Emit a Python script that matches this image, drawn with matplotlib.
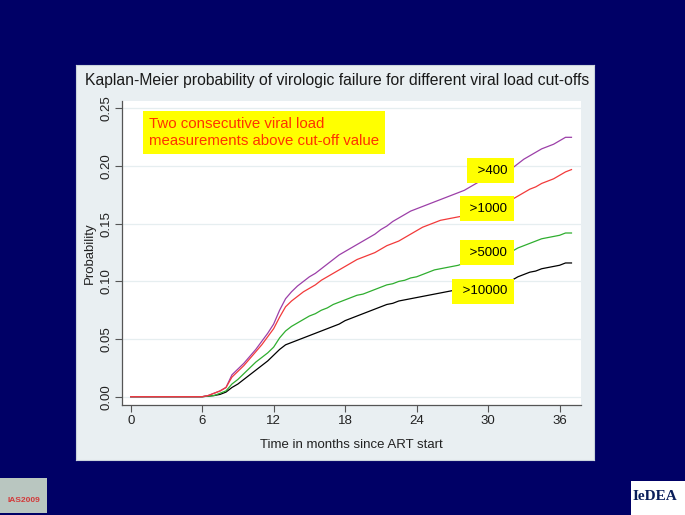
import matplotlib
matplotlib.use("Agg")
import matplotlib.pyplot as plt
from matplotlib.patches import Rectangle

plt.rcParams['font.family'] = ['Liberation Sans', 'DejaVu Sans']

# ---- data ----
months = [0, 6.0, 6.5, 7.0, 7.5, 8.0, 8.5, 9.0, 9.5, 10.0, 10.5, 11.0, 11.5, 12.0,
          12.5, 13.0, 13.5, 14.0, 14.5, 15.0, 15.5, 16.0, 16.5, 17.0, 17.5, 18.0,
          18.5, 19.0, 19.5, 20.0, 20.5, 21.0, 21.5, 22.0, 22.5, 23.0, 23.5, 24.0,
          24.5, 25.0, 25.5, 26.0, 26.5, 27.0, 27.5, 28.0, 28.5, 29.0, 29.5, 30.0,
          30.5, 31.0, 31.5, 32.0, 32.5, 33.0, 33.5, 34.0, 34.5, 35.0, 35.5, 36.0,
          36.5, 37.0]

vl400 = [0, 0.000, 0.001, 0.003, 0.005, 0.008, 0.019, 0.024, 0.029, 0.035, 0.041,
         0.048, 0.055, 0.063, 0.075, 0.085, 0.091, 0.096, 0.100, 0.104, 0.107,
         0.111, 0.115, 0.119, 0.123, 0.126, 0.129, 0.132, 0.135, 0.138, 0.141,
         0.145, 0.148, 0.152, 0.155, 0.158, 0.161, 0.163, 0.165, 0.167, 0.169,
         0.171, 0.173, 0.175, 0.177, 0.179, 0.182, 0.185, 0.188, 0.190, 0.192,
         0.194, 0.196, 0.198, 0.202, 0.206, 0.209, 0.212, 0.215, 0.217, 0.219,
         0.222, 0.225, 0.225]

vl1000 = [0, 0.000, 0.001, 0.003, 0.005, 0.008, 0.017, 0.022, 0.027, 0.033, 0.039,
          0.045, 0.052, 0.059, 0.069, 0.078, 0.083, 0.087, 0.091, 0.094, 0.097,
          0.101, 0.104, 0.107, 0.110, 0.113, 0.116, 0.119, 0.121, 0.123, 0.125,
          0.128, 0.131, 0.133, 0.135, 0.138, 0.141, 0.144, 0.147, 0.149, 0.151,
          0.153, 0.154, 0.155, 0.156, 0.157, 0.159, 0.161, 0.163, 0.164, 0.166,
          0.168, 0.169, 0.171, 0.174, 0.177, 0.180, 0.182, 0.185, 0.187, 0.189,
          0.192, 0.195, 0.197]

vl5000 = [0, 0.000, 0.0005, 0.001, 0.003, 0.005, 0.011, 0.015, 0.020, 0.025, 0.030,
          0.034, 0.038, 0.043, 0.051, 0.057, 0.061, 0.064, 0.067, 0.070, 0.072,
          0.075, 0.077, 0.080, 0.082, 0.084, 0.086, 0.088, 0.089, 0.091, 0.093,
          0.095, 0.097, 0.098, 0.100, 0.101, 0.103, 0.104, 0.106, 0.108, 0.110,
          0.111, 0.112, 0.113, 0.114, 0.116, 0.118, 0.119, 0.120, 0.121, 0.122,
          0.123, 0.124, 0.126, 0.129, 0.131, 0.133, 0.135, 0.137, 0.138, 0.139,
          0.140, 0.142, 0.142]

vl10000 = [0, 0.000, 0.0005, 0.001, 0.002, 0.004, 0.008, 0.011, 0.015, 0.019, 0.023,
           0.027, 0.031, 0.036, 0.041, 0.045, 0.047, 0.049, 0.051, 0.053, 0.055,
           0.057, 0.059, 0.061, 0.063, 0.066, 0.068, 0.070, 0.072, 0.074, 0.076,
           0.078, 0.080, 0.081, 0.083, 0.084, 0.085, 0.086, 0.087, 0.088, 0.089,
           0.090, 0.091, 0.092, 0.093, 0.094, 0.095, 0.096, 0.097, 0.097, 0.098,
           0.099, 0.100, 0.101, 0.104, 0.106, 0.108, 0.109, 0.111, 0.112, 0.113,
           0.114, 0.116, 0.116]

series_labels = [">400", ">1000", ">5000", ">10000"]
label_y = [0.196, 0.163, 0.125, 0.0915]
label_x = 31.6
xticks = [0, 6, 12, 18, 24, 30, 36]
yticks = [0.00, 0.05, 0.10, 0.15, 0.20, 0.25]

# ---- figure ----
W, H = 685, 515
fig = plt.figure(figsize=(W / 100, H / 100), dpi=100)
fig.patch.set_facecolor('#000066')

# light slide panel (background axes)
bg = fig.add_axes([76 / W, 1 - 460 / H, (594 - 76) / W, (460 - 65) / H], zorder=-5)
bg.set_facecolor('#e9eff2')
bg.set_xticks([])
bg.set_yticks([])
for s in bg.spines.values():
    s.set_color('#c9d3dc')
    s.set_linewidth(0.8)

fig.text(337 / W, 1 - 81 / H,
         "Kaplan-Meier probability of virologic failure for different viral load cut-offs",
         ha='center', va='center', fontsize=11.3, color='#1a1a1a')

ax = fig.add_axes([122 / W, 1 - 405 / H, (581 - 122) / W, (405 - 101) / H], zorder=2)
ax.set_facecolor('white')
ax.set_xlim(-0.73, 37.8)
ax.set_ylim(-0.0072, 0.2565)

for y in yticks:
    ax.axhline(y, color='#e6eef0', linewidth=0.9, zorder=1)

ax.plot(months, vl10000, color='black', linewidth=0.9, zorder=3)
ax.plot(months, vl5000, color='#2fae2f', linewidth=0.9, zorder=3)
ax.plot(months, vl400, color='#9c3fa8', linewidth=0.9, zorder=3)
ax.plot(months, vl1000, color='#f23a3a', linewidth=0.9, zorder=4)

for lab, ly in zip(series_labels, label_y):
    ax.text(label_x, ly, " " + lab, ha='right', va='center', fontsize=9.5, color='black',
            zorder=5,
            bbox=dict(boxstyle='square,pad=0.5', facecolor='#ffff00', edgecolor='none'))

ax.text(1.55, 0.2295, "Two consecutive viral load\nmeasurements above cut-off value",
        ha='left', va='center', fontsize=10.8, color='#ff3300', linespacing=1.25, zorder=5,
        bbox=dict(boxstyle='square,pad=0.4', facecolor='#ffff00', edgecolor='none'))

for s in ['top', 'right']:
    ax.spines[s].set_visible(False)
for s in ['left', 'bottom']:
    ax.spines[s].set_color('#555555')
    ax.spines[s].set_linewidth(0.9)

ax.set_xticks(xticks)
ax.set_xticklabels([str(t) for t in xticks])
ax.set_yticks(yticks)
ax.set_yticklabels([f"{t:.2f}" for t in yticks], rotation=90, va='center')
ax.tick_params(axis='both', direction='out', length=5, width=0.8, color='#555555',
               labelsize=9.5, labelcolor='#222222', pad=2)
ax.set_xlabel("Time in months since ART start", fontsize=9.5, color='#222222', labelpad=9)
ax.set_ylabel("Probability", fontsize=9.5, color='#222222', labelpad=3)

# logos (placeholders)
fig.patches.append(Rectangle((0, 1 - 513 / H), 47 / W, (513 - 478) / H,
                             transform=fig.transFigure, facecolor='#b9c6c0',
                             edgecolor='none', zorder=0))
fig.text(24 / W, 1 - 500 / H, "IAS2009", ha='center', va='center', fontsize=6,
         color='#d23a3a', fontweight='bold')
fig.patches.append(Rectangle((631 / W, 0), (685 - 631) / W, (515 - 481) / H,
                             transform=fig.transFigure, facecolor='white',
                             edgecolor='none', zorder=0))
fig.text(655 / W, 1 - 496 / H, "IeDEA", ha='center', va='center', fontsize=11,
         color='#0a1e5a', family=['Liberation Serif', 'DejaVu Serif'], fontweight='bold')

fig.savefig('out.png', dpi=100, facecolor=fig.get_facecolor())
